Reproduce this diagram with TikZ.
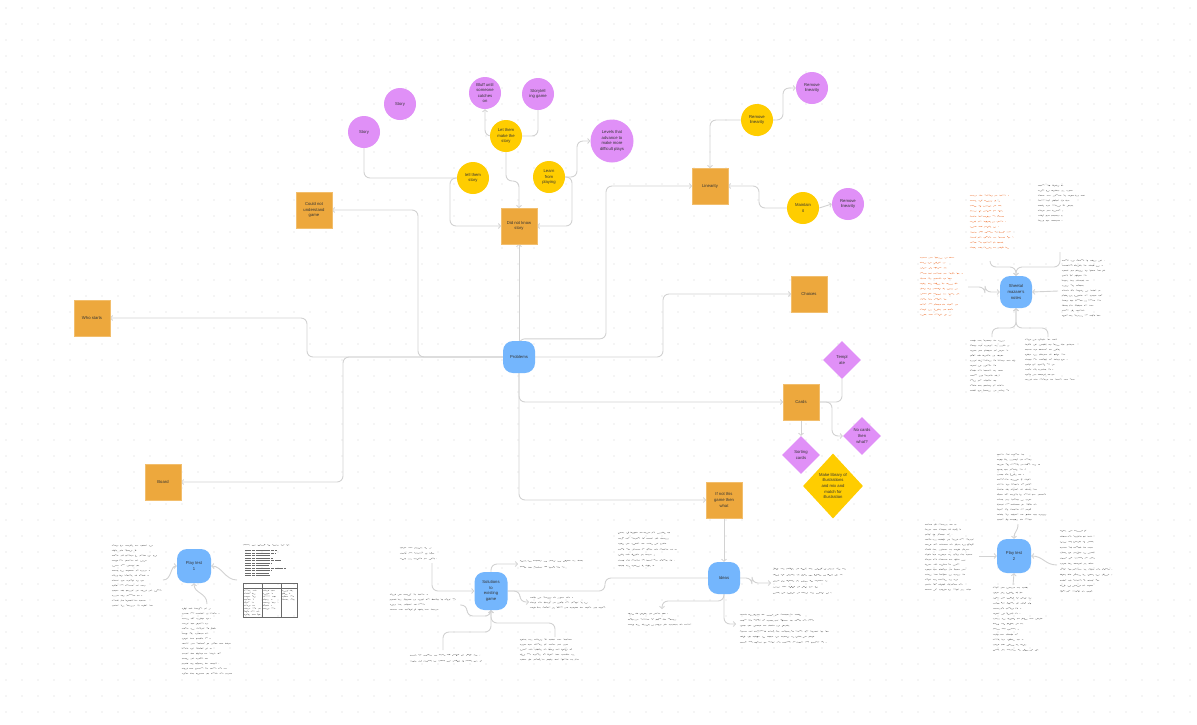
\documentclass[tikz,border=0pt]{standalone}
\usepackage{fontspec}
\setmainfont{Liberation Sans}
\usetikzlibrary{shapes.geometric,arrows.meta,decorations.pathmorphing,calc}

\definecolor{stickyO}{HTML}{EDA83D}
\definecolor{circY}{HTML}{FFCD00}
\definecolor{circP}{HTML}{E090F7}
\definecolor{nodeB}{HTML}{74B6FD}
\definecolor{wire}{HTML}{D2D2D2}
\definecolor{dotC}{HTML}{D4D4D4}
\definecolor{inkC}{HTML}{6A6A6A}
\definecolor{inkO}{HTML}{F07A3C}
\definecolor{labelC}{HTML}{333333}

\pgfdeclarelayer{bg}
\pgfsetlayers{bg,main}

% rows of handwritten notes: x, y, width, rows, row spacing, extra style
\newcommand\inkrows[6]{%
  \foreach \r in {1,...,#4}{%
    \pgfmathsetmacro\rowlen{#3*(0.5+0.5*rnd)}%
    \draw[scribble,#6] (#1,{#2+(\r-0.5)*#5}) -- ++(\rowlen,0);
  }}

\begin{document}
\begin{tikzpicture}[x=1pt,y=-1pt,
  every node/.style={font=\fontsize{4.2}{5.6}\selectfont, text=labelC, align=center, inner sep=0pt},
  sticky/.style={rectangle, fill=stickyO, draw=stickyO!75!white, line width=0.4pt, minimum size=35.5pt},
  topic/.style={rectangle, rounded corners=10pt, fill=nodeB, minimum width=32pt, minimum height=32pt},
  ycirc/.style={circle, fill=circY, minimum size=32pt},
  pcirc/.style={circle, fill=circP, minimum size=32pt},
  pdia/.style={diamond, fill=circP, minimum width=38pt, minimum height=38pt},
  ydia/.style={diamond, fill=circY, minimum width=60pt, minimum height=65pt},
  conn/.style={draw=wire, line width=0.9pt, rounded corners=6pt},
  arr/.style={-{Straight Barb[length=2.2pt,width=5pt,line width=0.8pt]}},
  scribble/.style={draw=inkC, line width=0.26pt, decorate,
    decoration={random steps, segment length=1.2pt, amplitude=0.8pt},
    dash pattern=on 7pt off 2.4pt on 4pt off 2.4pt on 9pt off 2.4pt on 3pt off 2.4pt},
  orangeink/.style={draw=inkO},
  typed/.style={draw=inkC, line width=0.4pt, decorate=false, dash pattern=on 6pt off 0.8pt on 3pt off 0.8pt on 8pt off 0.8pt}
]
\pgfmathsetseed{11}
\useasboundingbox (0,0) rectangle (1197,724);

\begin{pgfonlayer}{bg}
  \fill[white] (0,0) rectangle (1197,724);
  \foreach \gx in {6,22,...,1197}
    \foreach \gy in {8,24,...,724}
      \fill[dotC] (\gx,\gy) circle (0.6);
\end{pgfonlayer}

% ---------- central problem map ----------
\node[topic]  (P)   at (519,357) {Problems};
\node[sticky] (CNU) at (314,210) {Could not\\understand\\game};
\node[sticky] (WS)  at (92,318)  {Who starts};
\node[sticky] (BD)  at (163,482) {Board};
\node[sticky] (DNK) at (519,226) {Did not know\\story};
\node[sticky] (LIN) at (710,186) {Linearity};
\node[sticky] (CH)  at (809,294) {Choices};
\node[sticky] (CD)  at (801,402) {Cards};
\node[sticky] (IFN) at (724,500) {If not this\\game then\\what};

% story branch
\node[pcirc] (S1) at (400,104) {Story};
\node[pcirc] (S2) at (364,132) {Story};
\node[ycirc] (T)  at (473,178) {tell them\\story};
\node[ycirc] (L)  at (506,136) {Let them\\make the\\story};
\node[pcirc] (BL) at (485,93)  {Bluff until\\someone\\catches\\on};
\node[pcirc] (ST) at (538,94)  {Storytell\\ing game};
\node[ycirc] (LP) at (549,177) {Learn\\from\\playing};
\node[pcirc, minimum size=43pt] (LV) at (612,141) {Levels that\\advance to\\make more\\difficult plays};

% linearity branch
\node[ycirc] (RY)  at (757,120) {Remove\\linearity};
\node[pcirc] (RP1) at (812,88)  {Remove\\linearity};
\node[ycirc] (M)   at (803,208) {Maintain\\it};
\node[pcirc] (RP2) at (848,204) {Remove\\linearity};

% cards branch
\node[pdia] (TP) at (842,360) {Templ\\ate};
\node[pdia] (NC) at (862,436) {No cards\\then\\what?};
\node[pdia] (SC) at (801,455) {Sorting\\cards};
\node[ydia] (MK) at (833,486) {Make library of\\illustrations\\and mix and\\match for\\illustration};

% clusters of notes
\node[topic] (SN)  at (1016,292) {Sheetal\\mazare's\\notes};
\node[topic, minimum width=34pt, minimum height=34pt] (PT1) at (194,566) {Play test\\1};
\node[topic, minimum width=33pt, minimum height=38pt] (SO)  at (491,591) {Solutions\\to\\existing\\game};
\node[topic] (ID)  at (724,578) {Ideas};
\node[topic, minimum width=34pt, minimum height=34pt] (PT2) at (1014,556) {Play test\\2};

% anchor points on the notes
\coordinate (sn-tl) at (990,261);
\coordinate (sn-tr) at (1060,252);
\coordinate (sn-l)  at (968,287);
\coordinate (sn-r)  at (1058,291);
\coordinate (sn-bl) at (992,337);
\coordinate (sn-br) at (1048,337);
\coordinate (p1-l)  at (163,580);
\coordinate (p1-r)  at (237,580);
\coordinate (p1-b)  at (207,604);
\coordinate (so-tl) at (432,563);
\coordinate (so-l)  at (460,605);
\coordinate (so-bl) at (443,650);
\coordinate (so-br) at (555,637);
\coordinate (so-rt) at (518,564);
\coordinate (so-rm) at (529,602);
\coordinate (id-r)  at (771,583);
\coordinate (id-bl) at (662,609);
\coordinate (id-br) at (736,624);
\coordinate (p2-t)  at (1018,524);
\coordinate (p2-l)  at (979,556);
\coordinate (p2-r)  at (1057,565);
\coordinate (p2-b)  at (1013,585);

% ---------- connectors ----------
\begin{pgfonlayer}{bg}
  \draw[conn,arr] (P.north) -- (DNK.south);
  \draw[conn,arr] (P.west) -- (418,357) |- (CNU.east);
  \draw[conn,arr] (P.west) -- (307,357) |- (WS.east);
  \draw[conn,arr] (P.west) -- (343,357) |- (BD.east);
  \draw[conn,arr] (P.north) -- ++(0,-2) -| (606,250) |- (LIN.west);
  \draw[conn,arr] (P.east) -- (663,357) |- (CH.west);
  \draw[conn,arr] (P.south) |- (CD.west);
  \draw[conn,arr] (P.south) |- (IFN.west);

  \draw[conn] (S2.south) |- (T.west);
  \draw[conn,arr] (T.west) -- (450,178) |- (DNK.west);
  \draw[conn,arr] (L.south) -- (506,181) -| (DNK.north);
  \draw[conn,arr] (L.west) -| (BL.south);
  \draw[conn] (L.east) -| (ST.south);
  \draw[conn,arr] (LP.east) -- (572,177) |- (DNK.east);
  \draw[conn,arr] (LP.east) -- (577,177) |- (LV.west);

  \draw[conn,arr] (RY.west) -| (LIN.north);
  \draw[conn,arr] (RY.east) -- (783,120) |- (RP1.west);
  \draw[conn,arr] (M.west) -- (759,208) |- (LIN.east);
  \draw[conn,arr] (M.east) -- (RP2.west);

  \draw[conn] (CD.east) -| (TP.south);
  \draw[conn,arr] (CD.east) -- (832,402) |- (NC.west);
  \draw[conn,arr] (CD.south) -- (SC.north);

  \draw[conn,arr] (IFN.south) -- (ID.north);
  \draw[conn] (SO.east) -- (605,591) |- (ID.west);

  % notes feeding the blue topics
  \draw[conn,arr] (sn-tl) |- (1016,267) -- (SN.north);
  \draw[conn,arr] (sn-tr) |- (1016,267) -- (SN.north);
  \draw[conn,arr] (sn-l) -- (985,287) |- (SN.west);
  \draw[conn,arr] (sn-r) -- (SN.east);
  \draw[conn,arr] (sn-bl) |- (1016,328) -- (SN.south);
  \draw[conn,arr] (sn-br) |- (1016,328) -- (SN.south);

  \draw[conn,arr] (p1-l) .. controls (172,580) and (170,566) .. (PT1.west);
  \draw[conn,arr] (p1-r) .. controls (225,580) and (222,566) .. (PT1.east);
  \draw[conn,arr] (p1-b) .. controls (207,592) and (194,594) .. (PT1.south);

  \draw[conn,arr] (so-tl) |- (SO.west);
  \draw[conn,arr] (so-l) -| (467,616) -- (491,616) -- (SO.south);
  \draw[conn,arr] (so-bl) |- (491,632) -- (SO.south);
  \draw[conn,arr] (so-br) |- (491,623) -- (SO.south);
  \draw[conn,arr] (SO.north) |- (so-rt);
  \draw[conn,arr] (SO.east) -- (520,591) |- (so-rm);

  \draw[conn,arr] (ID.east) -- (752,578) |- (id-r);
  \draw[conn,arr] (ID.south) -- (724,601) -| (id-bl);
  \draw[conn,arr] (ID.south) |- (id-br);

  \draw[conn,arr] (p2-t) .. controls (1018,532) and (1014,531) .. (PT2.north);
  \draw[conn,arr] (p2-l) -- (PT2.west);
  \draw[conn,arr] (p2-r) .. controls (1045,565) and (1043,556) .. (PT2.east);
  \draw[conn,arr] (p2-b) -- (PT2.south);
\end{pgfonlayer}

% ---------- handwritten notes ----------
% around the notes topic
\inkrows{970}{193}{47}{11}{5.2}{orangeink}
\inkrows{1038}{183}{47}{8}{5}{}
\inkrows{920}{255}{45}{12}{5.2}{orangeink}
\inkrows{1062}{258}{43}{12}{5}{}
\inkrows{970}{338}{48}{11}{5}{}
\inkrows{1025}{337}{50}{9}{5}{}

% around play test 1
\inkrows{112}{543}{51}{13}{5}{}
\inkrows{182}{606}{51}{14}{5}{}
\inkrows{243}{543}{50}{1}{4}{}
\inkrows{245}{549}{44}{11}{2.5}{typed}
\draw[inkC, line width=0.25pt] (243,583) rectangle (297,617)
  (243,588) -- (297,588) (262,583) -- (262,617) (281,583) -- (281,617);
\inkrows{244}{589}{17}{9}{3}{}
\inkrows{263}{589}{17}{7}{3}{}
\inkrows{282}{589}{14}{4}{3}{}

% around the solutions topic
\inkrows{400}{545}{62}{3}{5.5}{}
\inkrows{390}{592}{70}{4}{5}{}
\inkrows{410}{652}{80}{2}{6}{}
\inkrows{520}{637}{67}{5}{5}{}
\inkrows{520}{558}{63}{2}{6}{}
\inkrows{530}{595}{80}{3}{5}{}

% around the ideas topic
\inkrows{618}{530}{65}{7}{5.5}{}
\inkrows{773}{566}{85}{5}{6}{}
\inkrows{628}{611}{72}{3}{5.5}{}
\inkrows{740}{612}{90}{6}{5.5}{}

% around play test 2
\inkrows{997}{452}{50}{14}{5}{}
\inkrows{925}{522}{52}{14}{5}{}
\inkrows{1060}{528}{53}{12}{5.5}{}
\inkrows{993}{585}{50}{13}{5.2}{}

\end{tikzpicture}
\end{document}
